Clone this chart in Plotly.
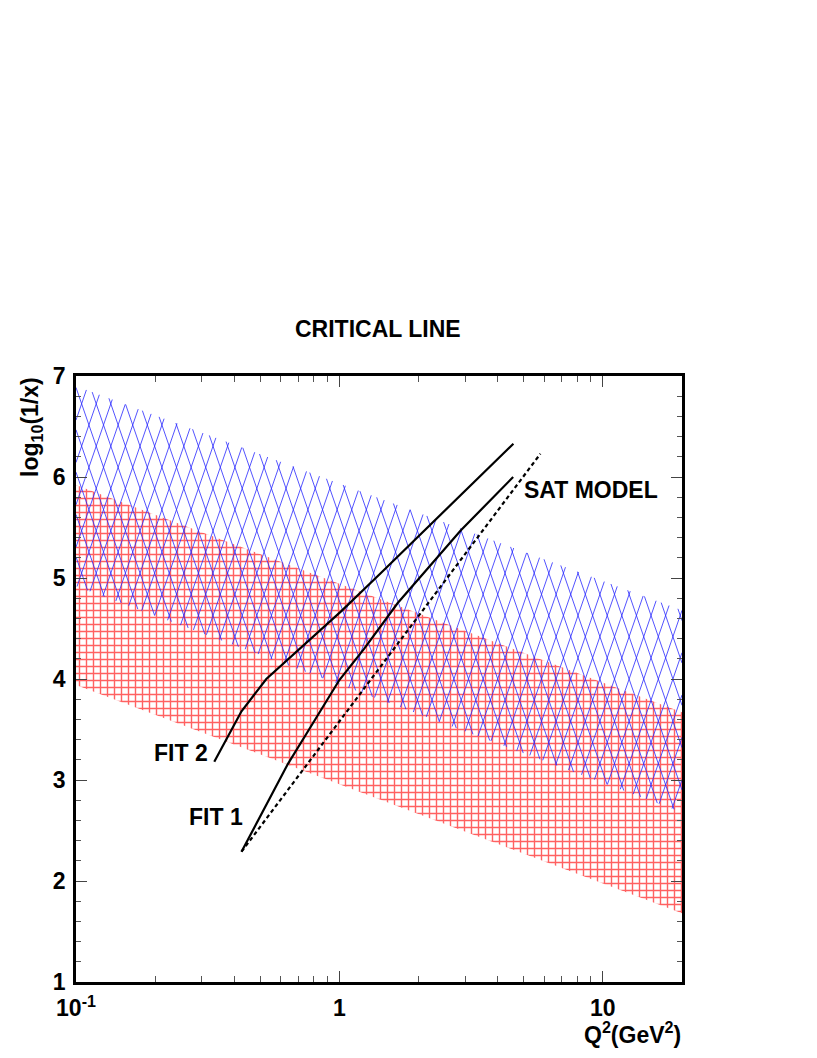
import numpy as np
import plotly.graph_objects as go

# ---------------- data ----------------
band_q2 = [0.1, 20.0]            # Q^2 end points of the two bands
blue_upper = [6.90, 4.68]
blue_lower = [4.92, 2.68]
red_upper = [5.92, 3.67]
red_lower = [3.94, 1.68]

fit2_q2 = [0.335, 0.425, 0.528, 0.716, 1.015, 1.438, 2.282, 4.58]
fit2_y = [3.18, 3.68, 4.00, 4.31, 4.67, 5.05, 5.56, 6.33]

fit1_q2 = [0.425, 0.638, 0.759, 1.000, 1.243, 1.663, 2.888, 4.57]
fit1_y = [2.29, 3.16, 3.48, 3.99, 4.30, 4.75, 5.47, 6.00]

sat_q2 = [0.425, 5.80]
sat_y = [2.29, 6.23]

x_tickvals = [0.1, 1, 10]
x_ticktext = ["10<sup>-1</sup>", "1", "10"]
x_minor = [0.2, 0.3, 0.4, 0.5, 0.6, 0.7, 0.8, 0.9, 2, 3, 4, 5, 6, 7, 8, 9]

# ---------------- geometry ----------------
OFF = 8                      # page body margin
W, H = 817 - OFF, 1058 - OFF
ML, MT = 76 - OFF, 376 - OFF
PW, PH = 606, 606
MR = W - ML - PW
MB = H - MT - PH
XR = [-1.0, np.log10(20.0)]
YR = [1.0, 7.0]
px_per_u = PW / (XR[1] - XR[0])
px_per_y = PH / (YR[1] - YR[0])

FONT = "Liberation Sans"

fig = go.Figure()

# red band (grid hatch)
fig.add_trace(go.Scatter(
    x=[band_q2[0], band_q2[1], band_q2[1], band_q2[0], band_q2[0]],
    y=[red_upper[0], red_upper[1], red_lower[1], red_lower[0], red_upper[0]],
    mode="lines", fill="toself", line=dict(width=0, color="rgba(0,0,0,0)"),
    fillcolor="rgba(0,0,0,0)",
    fillpattern=dict(shape="+", size=7, solidity=0.36, fgopacity=0.62,
                     fgcolor="rgb(255,0,0)", bgcolor="rgba(0,0,0,0)"),
    hoverinfo="skip"))

# blue band (diamond cross-hatch, steep lines)
u0, u1 = np.log10(band_q2[0]), np.log10(band_q2[1])


def edge_coef(vals):
    c = (vals[1] - vals[0]) / (u1 - u0)
    return vals[0] - c * u0, c


Ui, Uc = edge_coef(blue_upper)
Li, Lc = edge_coef(blue_lower)
slope_px = 2.9
spacing_px = 14.6
m = slope_px * px_per_u / px_per_y
du = spacing_px / px_per_u
yref = 4.0
hx, hy = [], []
for sg in (1, -1):
    a = XR[0] - 3.0
    while a < XR[1] + 3.0:
        A = yref - sg * m * a
        B = sg * m
        ra = (Ui - A) / (B - Uc)
        rb = (Li - A) / (B - Lc)
        lo, hi = min(ra, rb), max(ra, rb)
        lo, hi = max(lo, XR[0]), min(hi, XR[1])
        if hi > lo:
            for u in (lo, hi):
                hx.append(10 ** u)
                hy.append(A + B * u)
            hx.append(None)
            hy.append(None)
        a += du
fig.add_trace(go.Scatter(x=hx, y=hy, mode="lines",
                         line=dict(color="rgba(40,40,255,0.8)", width=1.0),
                         hoverinfo="skip"))

# curves
fig.add_trace(go.Scatter(x=fit2_q2, y=fit2_y, mode="lines",
                         line=dict(color="black", width=2.2)))
fig.add_trace(go.Scatter(x=fit1_q2, y=fit1_y, mode="lines",
                         line=dict(color="black", width=2.2)))
fig.add_trace(go.Scatter(x=sat_q2, y=sat_y, mode="lines",
                         line=dict(color="black", width=2.2, dash="4px,3px")))

axis_common = dict(showline=True, linewidth=2.5, linecolor="black", mirror="ticks",
                   ticks="inside", ticklen=11, tickwidth=1, tickcolor="#444",
                   showgrid=False, zeroline=False,
                   tickfont=dict(family=FONT, size=23, color="black", weight="bold"))

fig.update_xaxes(type="log", range=XR, tickmode="array", tickvals=x_tickvals,
                 ticktext=x_ticktext, ticklabelstandoff=4,
                 minor=dict(tickmode="array", tickvals=x_minor, ticks="inside",
                            ticklen=6, tickwidth=1, tickcolor="#555", showgrid=False),
                 **axis_common)
fig.update_yaxes(range=YR, tick0=1, dtick=1, ticklabelstandoff=3,
                 minor=dict(dtick=0.2, ticks="inside", ticklen=5, tickwidth=1,
                            tickcolor="#555", showgrid=False),
                 **axis_common)


def px_to_paper_x(px):
    return (px - OFF - ML) / PW


def px_to_paper_y(py):
    return (OFF + MT + PH - py) / PH


bold = dict(family=FONT, color="black", weight="bold")
ann = []
ann.append(dict(text="CRITICAL LINE", xref="paper", yref="paper",
                x=px_to_paper_x(378), y=px_to_paper_y(329), xanchor="center",
                yanchor="middle", showarrow=False, font=dict(size=23, **bold)))
ann.append(dict(text="Q<sup>2</sup>(GeV<sup>2</sup>)", xref="paper", yref="paper",
                x=px_to_paper_x(683), y=px_to_paper_y(1033), xanchor="right",
                yanchor="middle", showarrow=False, font=dict(size=23, **bold)))
ann.append(dict(text="log<sub>10</sub>(1/x)", xref="paper", yref="paper",
                x=px_to_paper_x(32), y=px_to_paper_y(375), xanchor="center",
                yanchor="top", textangle=-90, showarrow=False,
                font=dict(size=23, **bold)))
ann.append(dict(text="SAT MODEL", x=np.log10(4.95), y=5.87, xanchor="left",
                yanchor="middle", showarrow=False, font=dict(size=23, **bold)))
ann.append(dict(text="FIT 2", x=np.log10(0.322), y=3.27, xanchor="right",
                yanchor="middle", showarrow=False, font=dict(size=23, **bold)))
ann.append(dict(text="FIT 1", x=np.log10(0.440), y=2.63, xanchor="right",
                yanchor="middle", showarrow=False, font=dict(size=23, **bold)))

fig.update_layout(width=W, height=H, margin=dict(l=ML, r=MR, t=MT, b=MB),
                  paper_bgcolor="white", plot_bgcolor="white", showlegend=False,
                  font=dict(family=FONT, color="black"), annotations=ann)

fig.write_html("out.html")
